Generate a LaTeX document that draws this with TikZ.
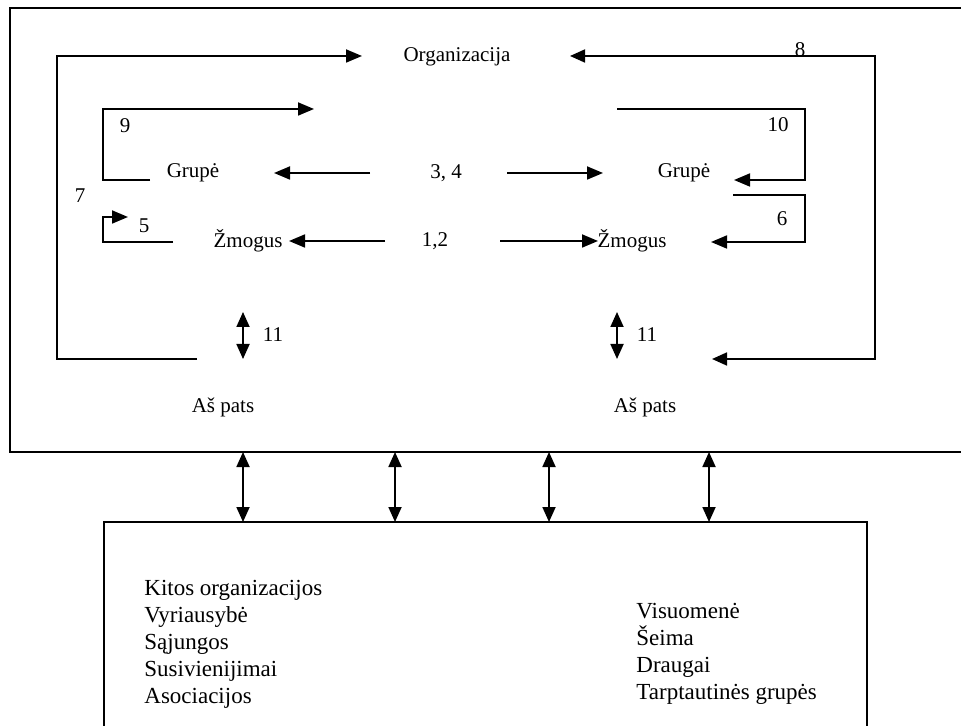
\documentclass[tikz,border=0pt]{standalone}
\usepackage{fontspec}
\setmainfont{Liberation Serif}
\usetikzlibrary{arrows.meta}
\tikzset{
    % Text styles
    lbl/.style={
        inner sep=0pt,
        font=\fontsize{10.5}{12}\selectfont
    },
    listtext/.style={
        inner sep=0pt,
        align=left,
        font=\fontsize{11.5}{13.5}\selectfont
    },
    % Line and arrow styles
    boxline/.style={
        line width=0.9pt
    },
    flow/.style={
        line width=0.9pt,
        -{Triangle[length=8pt,width=6.5pt]}
    },
    flowboth/.style={
        line width=0.9pt,
        {Triangle[length=7.5pt,width=6.5pt]}-{Triangle[length=7.5pt,width=6.5pt]}
    }
}
\begin{document}
\begin{tikzpicture}[x=0.5pt, y=-0.5pt]
    \useasboundingbox (0,0) rectangle (961,726);

    % Frames
    \draw[boxline] (961,8) -- (10,8) -- (10,452) -- (961,452);
    \draw[boxline] (104,726) -- (104,522) -- (867,522) -- (867,726);

    % Labels
    \node[lbl] (org) at (457,57) {Organizacija};
    \node[lbl] (grupeL) at (193,173) {Grupė};
    \node[lbl] (grupeR) at (684,173) {Grupė};
    \node[lbl] (zmogL) at (248,241) {Žmogus};
    \node[lbl] (zmogR) at (632,241) {Žmogus};
    \node[lbl] (n34) at (446,173) {3, 4};
    \node[lbl] (n12) at (435,241) {1,2};
    \node[lbl] (asL) at (223,407) {Aš pats};
    \node[lbl] (asR) at (645,407) {Aš pats};

    % Numbers on the loops
    \node[lbl] (n7) at (80,196) {7};
    \node[lbl] (n8) at (800,50) {8};
    \node[lbl] (n9) at (125,126) {9};
    \node[lbl] (n10) at (778,125) {10};
    \node[lbl] (n5) at (144,226) {5};
    \node[lbl] (n6) at (782,219) {6};
    \node[lbl] (n11L) at (273,335) {11};
    \node[lbl] (n11R) at (647,335) {11};

    % Loop end points
    \coordinate (l7a) at (197,359);
    \coordinate (l7b) at (57,359);
    \coordinate (l7c) at (57,56);
    \coordinate (l7d) at (362,56);
    \coordinate (l8a) at (570,56);
    \coordinate (l8b) at (875,56);
    \coordinate (l8c) at (875,359);
    \coordinate (l8d) at (712,359);
    \coordinate (l9a) at (150,180);
    \coordinate (l9b) at (103,180);
    \coordinate (l9c) at (103,109);
    \coordinate (l9d) at (314,109);
    \coordinate (l10a) at (617,109);
    \coordinate (l10b) at (805,109);
    \coordinate (l10c) at (805,180);
    \coordinate (l10d) at (734,180);
    \coordinate (l6a) at (733,195);
    \coordinate (l6b) at (805,195);
    \coordinate (l6c) at (805,242);
    \coordinate (l6d) at (711,242);
    \coordinate (l5a) at (173,242);
    \coordinate (l5b) at (103,242);
    \coordinate (l5c) at (103,217);
    \coordinate (l5d) at (128,217);

    % Loops
    \draw[flow] (l7a) -- (l7b) -- (l7c) -- (l7d);
    \draw[flowboth] (l8a) -- (l8b) -- (l8c) -- (l8d);
    \draw[flow] (l9a) -- (l9b) -- (l9c) -- (l9d);
    \draw[flow] (l10a) -- (l10b) -- (l10c) -- (l10d);
    \draw[flow] (l6a) -- (l6b) -- (l6c) -- (l6d);
    \draw[flow] (l5a) -- (l5b) -- (l5c) -- (l5d);

    % Arrows between the levels
    \coordinate (a34L) at (370,173);
    \coordinate (t34L) at (274,173);
    \coordinate (a34R) at (507,173);
    \coordinate (t34R) at (603,173);
    \coordinate (a12L) at (385,241);
    \coordinate (t12L) at (289,241);
    \coordinate (a12R) at (500,241);
    \coordinate (t12R) at (598,241);
    \draw[flow] (a34L) -- (t34L);
    \draw[flow] (a34R) -- (t34R);
    \draw[flow] (a12L) -- (t12L);
    \draw[flow] (a12R) -- (t12R);

    % Self arrows
    \coordinate (s11La) at (243,312);
    \coordinate (s11Lb) at (243,359);
    \coordinate (s11Ra) at (617,312);
    \coordinate (s11Rb) at (617,359);
    \draw[flowboth] (s11La) -- (s11Lb);
    \draw[flowboth] (s11Ra) -- (s11Rb);

    % Links between the frames
    \foreach \x [count=\i] in {243,395,549,709} {
        \coordinate (top\i) at (\x,452);
        \coordinate (bot\i) at (\x,522);
        \draw[flowboth] (top\i) -- (bot\i);
    }

    % Environment lists
    \node[listtext,anchor=west] (envL) at (144,644) {Kitos organizacijos\\Vyriausybė\\Sąjungos\\Susivienijimai\\Asociacijos};
    \node[listtext,anchor=west] (envR) at (636,654) {Visuomenė\\Šeima\\Draugai\\Tarptautinės grupės};
\end{tikzpicture}
\end{document}
